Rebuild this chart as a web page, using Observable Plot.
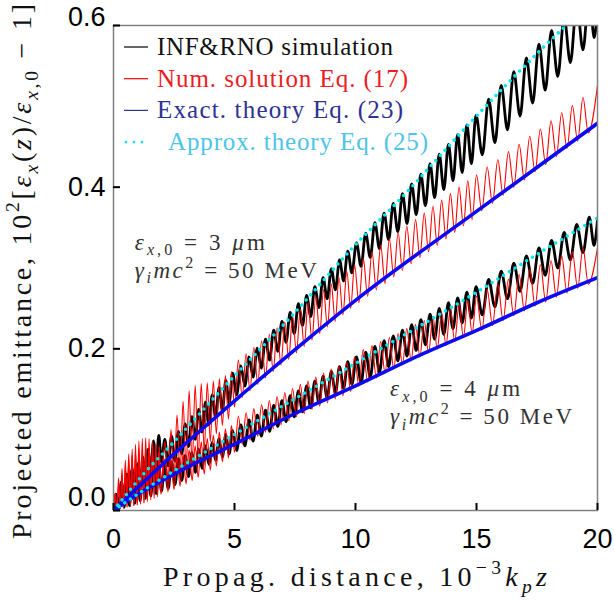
<!DOCTYPE html>
<html><head><meta charset="utf-8">
<script src="https://cdn.jsdelivr.net/npm/d3@7"></script>
<script src="https://cdn.jsdelivr.net/npm/@observablehq/plot@0.6"></script>
<style>body{margin:0;background:#fff} svg{display:block}</style>
</head><body><div id="chart"></div>
<script>
// ---------- data ----------
const redX = [0,0.07,0.14,0.21,0.28,0.35,0.42,0.49,0.56,0.63,0.7,0.77,0.84,0.91,0.98,1.05,1.12,1.19,1.26,1.33,1.4,1.47,1.54,1.61,1.68,1.75,1.82,1.89,1.96,
 2.125,2.25,2.375,2.5,2.625,2.75,2.875,3.0,3.125,3.25,3.375,3.5,3.625,3.75,3.875,4.0,4.125,4.25,4.375,4.5,4.625,4.75,4.875,5.0,
 5.16,5.32,5.48,5.64,5.8,5.96,6.12,6.28,6.44,6.6,6.76,6.92,7.08,7.24,7.4,7.56,7.72,7.88,8.04,8.2,8.36,8.52,8.68,8.84,9.0,9.16,9.32,9.48,9.64,9.8,9.96,
 10.14,10.32,10.5,10.68,10.86,11.04,11.22,11.4,11.58,11.76,11.94,12.12,12.3,12.48,12.66,12.84,13.02,13.2,13.38,13.56,13.74,13.92,14.1,14.28,14.46,14.64,14.82,15.0,
 15.22,15.44,15.66,15.88,16.1,16.32,16.54,16.76,16.98,17.2,17.42,17.64,17.86,18.08,18.3,18.52,18.74,18.96,19.18,19.4,19.62,20.0];
const redUpper = [0,0.022,0.001,0.04,0.002,0.052,0.003,0.062,0.004,0.07,0.005,0.076,0.006,0.082,0.007,0.086,0.008,0.089,0.01,0.09,0.013,0.089,0.017,0.086,0.021,0.083,0.025,0.08,0.03,
 0.085,0.035,0.1,0.04,0.118,0.045,0.135,0.05,0.148,0.056,0.155,0.064,0.157,0.074,0.158,0.085,0.16,0.095,0.163,0.105,0.167,0.113,0.172,0.128,
 0.186,0.14,0.194,0.148,0.202,0.156,0.21,0.164,0.218,0.172,0.226,0.18,0.233,0.187,0.241,0.195,0.249,0.203,0.257,0.211,0.265,0.219,0.273,0.227,0.28,0.234,0.288,0.242,0.296,0.25,0.304,
 0.257,0.312,0.265,0.32,0.273,0.328,0.281,0.336,0.289,0.344,0.297,0.352,0.305,0.36,0.313,0.368,0.32,0.376,0.328,0.384,0.336,0.392,0.344,0.4,0.352,0.408,0.36,0.415,
 0.371,0.425,0.38,0.434,0.39,0.444,0.4,0.453,0.409,0.463,0.419,0.472,0.428,0.482,0.438,0.492,0.448,0.501,0.457,0.511,0.467,0.526];
const redLower = [0,0.018,0.001,0.032,0.002,0.044,0.003,0.054,0.004,0.062,0.005,0.068,0.006,0.073,0.007,0.076,0.008,0.078,0.009,0.077,0.011,0.075,0.013,0.072,0.015,0.069,0.017,0.066,0.02,
 0.064,0.023,0.064,0.026,0.066,0.03,0.07,0.033,0.075,0.037,0.08,0.041,0.085,0.045,0.089,0.05,0.093,0.055,0.097,0.06,0.101,0.065,0.105,0.072,
 0.117,0.082,0.121,0.087,0.126,0.092,0.131,0.097,0.136,0.101,0.141,0.106,0.146,0.111,0.151,0.116,0.156,0.12,0.16,0.125,0.165,0.129,0.17,0.133,0.175,0.138,0.179,0.142,0.184,0.147,0.19,
 0.154,0.199,0.159,0.204,0.164,0.209,0.17,0.214,0.175,0.219,0.18,0.225,0.185,0.23,0.19,0.235,0.195,0.24,0.2,0.245,0.204,0.25,0.209,0.255,0.214,0.26,0.219,0.265,
 0.223,0.274,0.229,0.28,0.235,0.286,0.241,0.292,0.247,0.298,0.253,0.304,0.258,0.309,0.264,0.315,0.269,0.32,0.275,0.325,0.28,0.325];
const blackX = [0,0.11,0.22,0.33,0.44,0.55,0.66,0.77,0.88,0.99,1.1,1.21,1.32,1.43,1.54,1.65,1.76,1.87,1.98,
 2.12,2.26,2.4,2.54,2.68,2.82,2.96,3.1,3.24,3.38,3.52,3.66,3.8,3.94,4.08,4.22,4.36,4.5,4.64,4.78,4.92,
 5.09,5.26,5.43,5.6,5.77,5.94,6.11,6.28,6.45,6.62,6.79,6.96,7.13,7.3,7.47,7.64,7.81,7.98,8.15,8.32,8.49,8.66,8.83,9.0,9.17,9.34,9.51,9.68,9.85,
 10.04,10.23,10.42,10.61,10.8,10.99,11.18,11.37,11.56,11.75,11.94,12.13,12.32,12.51,12.7,12.89,13.08,13.27,13.46,13.65,13.84,14.03,14.22,14.41,14.6,14.79,14.98,
 15.24,15.5,15.76,16.02,16.28,16.54,16.8,17.06,17.32,17.58,17.84,18.1,18.36,18.62,18.88,19.14,19.4,19.66,19.86,20.0];
const blackUpper = [0,0.02,0.003,0.035,0.006,0.045,0.01,0.052,0.016,0.058,0.024,0.066,0.033,0.076,0.043,0.086,0.052,0.093,0.06,
 0.088,0.055,0.092,0.061,0.098,0.07,0.107,0.079,0.116,0.088,0.125,0.097,0.134,0.106,0.143,0.115,0.152,0.124,0.161,0.133,0.17,
 0.143,0.179,0.154,0.19,0.165,0.201,0.176,0.212,0.186,0.223,0.197,0.234,0.208,0.245,0.219,0.256,0.229,0.266,0.24,0.277,0.251,0.288,0.262,0.299,0.273,0.31,0.284,0.321,0.294,
 0.331,0.302,0.343,0.313,0.356,0.324,0.368,0.335,0.38,0.345,0.392,0.355,0.404,0.366,0.416,0.377,0.429,0.387,0.441,0.397,0.453,0.408,0.465,0.418,0.477,0.429,0.489,
 0.44,0.509,0.455,0.526,0.471,0.543,0.488,0.56,0.504,0.577,0.52,0.594,0.537,0.61,0.554,0.627,0.57,0.643,0.585,0.62];
const blackLower = [0,0.02,0.002,0.035,0.004,0.045,0.006,0.05,0.009,0.053,0.012,0.055,0.015,0.056,0.018,0.057,0.021,0.058,0.024,
 0.056,0.027,0.06,0.032,0.064,0.037,0.068,0.042,0.072,0.047,0.076,0.052,0.08,0.057,0.084,0.062,0.089,0.066,0.094,0.07,0.099,
 0.074,0.106,0.08,0.112,0.086,0.118,0.092,0.124,0.098,0.13,0.104,0.136,0.11,0.142,0.116,0.148,0.122,0.154,0.127,0.16,0.133,0.166,0.139,0.172,0.145,0.178,0.151,0.184,0.156,
 0.19,0.158,0.196,0.165,0.203,0.171,0.21,0.178,0.216,0.185,0.223,0.191,0.23,0.198,0.236,0.205,0.243,0.212,0.25,0.218,0.257,0.225,0.263,0.232,0.27,0.238,0.277,
 0.242,0.286,0.252,0.296,0.262,0.306,0.271,0.315,0.281,0.325,0.291,0.334,0.3,0.344,0.31,0.354,0.319,0.363,0.328,0.36];
const blueUpperX = [0,2.5,5.25,7.7,10,15,20];
const blueUpperY = [0,0.07,0.142,0.204,0.26,0.37,0.479];
const blueLowerX = [0,1,2.5,5,7.5,10.2,12.5,15.17,17.5,20];
const blueLowerY = [0,0.02,0.045,0.082,0.12,0.157,0.19,0.225,0.257,0.288];
const cyanUpperX = [0,1.24,2.5,4.42,7.5,9.79,12,14.75,17.56,18.7];
const cyanUpperY = [0,0.045,0.085,0.148,0.245,0.322,0.39,0.48,0.567,0.6];
const cyanLowerX = [0,1.24,5,10,15,17.56,20];
const cyanLowerY = [0,0.025,0.094,0.182,0.27,0.318,0.362];
const xTicks = [0,5,10,15,20];
const yTicks = [0,0.2,0.4,0.6];
const legendLabels = ["INF&RNO simulation","Num. solution Eq. (17)","Exact. theory Eq. (23)","Approx. theory Eq. (25)"];
const annotX = [0.9, 11.45];
const annotY = [0.322, 0.141];
const annotEps = ["3", "4"];

// ---------- build ----------
const pts = (xs, ys) => xs.map((x, i) => ({x, y: ys[i]}));
const fmt = d3.format(".1f");
const yAxisOpts = {tickSize: 0, tickPadding: 8, tickFormat: fmt, label: null, fontSize: 27};

const plot = Plot.plot({
  width: 614, height: 601,
  marginLeft: 113, marginRight: 17, marginTop: 25, marginBottom: 91,
  x: {domain: [0, 20], label: null},
  y: {domain: [0, 0.6], label: null},
  style: {fontFamily: "'Liberation Sans', Arial, sans-serif", fontSize: "27px", background: "#fff", color: "#000"},
  marks: [
    Plot.line(pts(blackX, blackUpper), {x: "x", y: "y", stroke: "#000", strokeWidth: 2.8, curve: "monotone-x", clip: true}),
    Plot.line(pts(blackX, blackLower), {x: "x", y: "y", stroke: "#000", strokeWidth: 2.8, curve: "monotone-x", clip: true}),
    Plot.line(pts(redX, redUpper), {x: "x", y: "y", stroke: "#ff0000", strokeWidth: 1.1, curve: "monotone-x", clip: true}),
    Plot.line(pts(redX, redLower), {x: "x", y: "y", stroke: "#ff0000", strokeWidth: 1.1, curve: "monotone-x", clip: true}),
    Plot.line(pts(blueUpperX, blueUpperY), {x: "x", y: "y", stroke: "#0a0af5", strokeWidth: 3.6, curve: "monotone-x", clip: true}),
    Plot.line(pts(blueLowerX, blueLowerY), {x: "x", y: "y", stroke: "#0a0af5", strokeWidth: 3.6, curve: "monotone-x", clip: true}),
    Plot.line(pts(cyanUpperX, cyanUpperY), {x: "x", y: "y", stroke: "#00e8ee", strokeWidth: 3.6, strokeDasharray: "0 6.8", strokeLinecap: "round", curve: "monotone-x", clip: true}),
    Plot.line(pts(cyanLowerX, cyanLowerY), {x: "x", y: "y", stroke: "#00e8ee", strokeWidth: 3.6, strokeDasharray: "0 6.8", strokeLinecap: "round", curve: "monotone-x", clip: true}),
    Plot.frame({stroke: "#808080", strokeWidth: 1.5}),
    Plot.tickX(xTicks, {x: d => d, stroke: "#000", strokeWidth: 2, insetTop: 478}),
    Plot.tickY(yTicks, {y: d => d, stroke: "#000", strokeWidth: 2, insetRight: 477}),
    Plot.axisX(xTicks, {tickSize: 0, tickPadding: 18, label: null, fontSize: 27}),
    Plot.axisY([0.2, 0.4], yAxisOpts),
    Plot.axisY([0.6], {...yAxisOpts, dy: -8}),
    Plot.axisY([0], {...yAxisOpts, dy: -13})
  ]
});
document.getElementById("chart").appendChild(plot);

const svg = d3.select(plot);
const xs = plot.scale("x"), ys = plot.scale("y");
const serif = "'Liberation Serif', 'Times New Roman', serif";

function rich(textSel, segs, S) {
  let shift = 0;
  segs.forEach(s => {
    const target = s.sub ? 0.25 * S : s.sup ? -0.42 * S : 0;
    const t = textSel.append("tspan").text(s.t).attr("dy", target - shift);
    shift = target;
    if (s.sub || s.sup) t.attr("font-size", 0.7 * S);
    if (s.i) t.attr("font-style", "italic");
  });
}

// x label
const xl = svg.append("text")
  .attr("x", xs.apply(10)).attr("y", 586)
  .attr("text-anchor", "middle").attr("font-family", serif).attr("font-size", 28).attr("fill", "#111")
  .attr("textLength", 384).attr("lengthAdjust", "spacing");
rich(xl, [{t: "Propag. distance, 10"}, {t: "−3", sup: 1}, {t: "k", i: 1}, {t: "p", i: 1, sub: 1}, {t: "z", i: 1}], 28);

// y label
const yl = svg.append("text")
  .attr("transform", `translate(31,${ys.apply(0.3) + 4}) rotate(-90)`)
  .attr("text-anchor", "middle").attr("font-family", serif).attr("font-size", 28).attr("fill", "#111")
  .attr("textLength", 535).attr("lengthAdjust", "spacing");
rich(yl, [{t: "Projected emittance, 10"}, {t: "2", sup: 1}, {t: "["}, {t: "ε", i: 1}, {t: "x", i: 1, sub: 1},
  {t: "("}, {t: "z", i: 1}, {t: ")/"}, {t: "ε", i: 1}, {t: "x", i: 1, sub: 1}, {t: ",0", sub: 1}, {t: " − 1]"}], 28);

// annotations
annotX.forEach((ax, k) => {
  const x0 = xs.apply(ax), y0 = ys.apply(annotY[k]);
  const t1 = svg.append("text").attr("x", x0).attr("y", y0).attr("text-anchor", "start")
    .attr("font-family", serif).attr("font-size", 23).attr("fill", "#333")
    .attr("textLength", 130).attr("lengthAdjust", "spacing");
  rich(t1, [{t: "ε", i: 1}, {t: "x", i: 1, sub: 1}, {t: ",0", sub: 1}, {t: " = " + annotEps[k] + " "}, {t: "μ", i: 1}, {t: "m"}], 23);
  const t2 = svg.append("text").attr("x", x0).attr("y", y0 + 28).attr("text-anchor", "start")
    .attr("font-family", serif).attr("font-size", 23).attr("fill", "#333")
    .attr("textLength", 182).attr("lengthAdjust", "spacing");
  rich(t2, [{t: "γ", i: 1}, {t: "i", i: 1, sub: 1}, {t: "mc", i: 1}, {t: "2", sup: 1}, {t: " = 50 MeV"}], 23);
});

// legend
const legTextColors = ["#111", "#ed1c24", "#2e3192", "#4ec4e8"];
const legLineColors = ["#000", "#ff0000", "#2e3192", "#00e0ee"];
const legLengths = [236, 251, 246, 260];
const lg = svg.append("g");
legendLabels.forEach((lab, i) => {
  const by = 55 + i * 31.7;
  if (i < 3) {
    lg.append("line").attr("x1", 124).attr("x2", 148).attr("y1", by - 8).attr("y2", by - 8)
      .attr("stroke", legLineColors[i]).attr("stroke-width", 1.2);
  } else {
    lg.append("line").attr("x1", 126).attr("x2", 150).attr("y1", by - 8).attr("y2", by - 8)
      .attr("stroke", legLineColors[i]).attr("stroke-width", 2.6).attr("stroke-dasharray", "0 8")
      .attr("stroke-linecap", "round");
  }
  lg.append("text").attr("x", i < 3 ? 157 : 168).attr("y", by).attr("text-anchor", "start")
    .attr("font-family", serif).attr("font-size", 25).attr("fill", legTextColors[i])
    .attr("textLength", legLengths[i]).attr("lengthAdjust", "spacing")
    .text(lab);
});
</script>
</body></html>
